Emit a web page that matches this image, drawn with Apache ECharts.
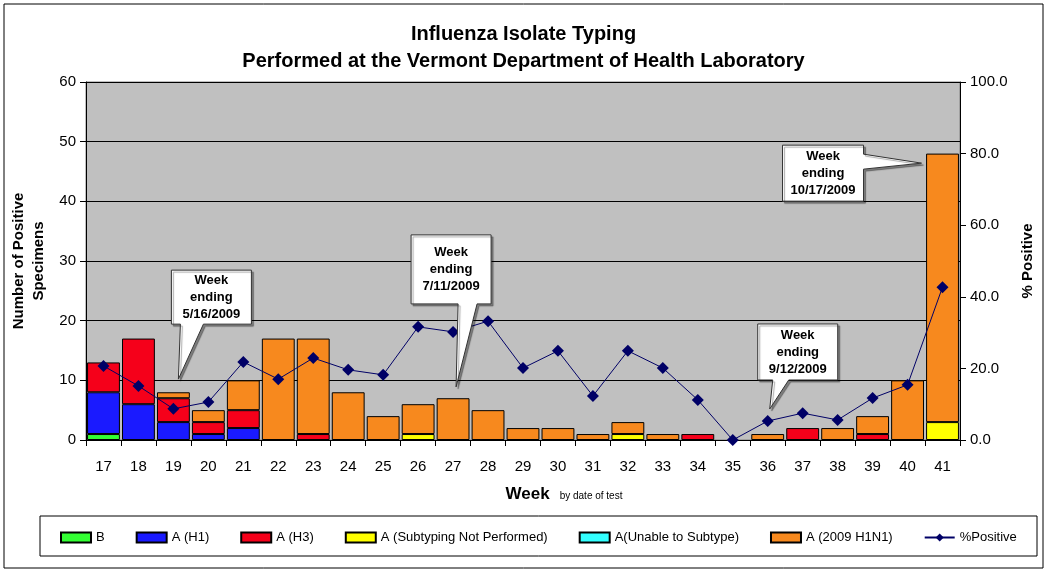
<!DOCTYPE html>
<html lang="en">
<head>
  <meta charset="UTF-8" />
  <title>Influenza Isolate Typing</title>
  <script src="https://cdn.jsdelivr.net/npm/echarts@6.0.0/dist/echarts.min.js"></script>
  <style>
    html, body { margin: 0; padding: 0; background: #fff; }
  </style>
</head>
<body>
  <div id="main" style="width: 1047px; height: 574px;"></div>

  <script>
    // week numbers (by date of test)
    const weeks = ['17', '18', '19', '20', '21', '22', '23', '24', '25', '26', '27', '28', '29',
      '30', '31', '32', '33', '34', '35', '36', '37', '38', '39', '40', '41'];

    // number of positive specimens, per type
    const typeB = [1, 0, 0, 0, 0, 0, 0, 0, 0, 0, 0, 0, 0, 0, 0, 0, 0, 0, 0, 0, 0, 0, 0, 0, 0];
    const typeH1 = [7, 6, 3, 1, 2, 0, 0, 0, 0, 0, 0, 0, 0, 0, 0, 0, 0, 0, 0, 0, 0, 0, 0, 0, 0];
    const typeH3 = [5, 11, 4, 2, 3, 0, 1, 0, 0, 0, 0, 0, 0, 0, 0, 0, 0, 1, 0, 0, 2, 0, 1, 0, 0];
    const typeNotSubtyped = [0, 0, 0, 0, 0, 0, 0, 0, 0, 1, 0, 0, 0, 0, 0, 1, 0, 0, 0, 0, 0, 0, 0, 0, 3];
    const typeUnable = [0, 0, 0, 0, 0, 0, 0, 0, 0, 0, 0, 0, 0, 0, 0, 0, 0, 0, 0, 0, 0, 0, 0, 0, 0];
    const typeH1N1 = [0, 0, 1, 2, 5, 17, 16, 8, 4, 5, 7, 5, 2, 2, 1, 2, 1, 0, 0, 1, 0, 2, 3, 10, 45];

    // % positive (right axis)
    const pctPositive = [20.7, 15.1, 8.7, 10.6, 21.8, 17.0, 22.9, 19.6, 18.2, 31.6, 30.2, 33.2, 20.1,
      24.9, 12.3, 24.9, 20.1, 11.2, 0, 5.3, 7.5, 5.6, 11.7, 15.4, 42.7];

    const font = 'Liberation Sans, Arial, sans-serif';
    const chart = echarts.init(document.getElementById('main'));

    // zero-height segments would still draw a border line
    const noZero = (arr) => arr.map((v) => (v === 0 ? '-' : v));

    const barSeries = [
      { name: 'B', data: typeB, color: '#33FF33' },
      { name: 'A (H1)', data: typeH1, color: '#1A1AFF' },
      { name: 'A (H3)', data: typeH3, color: '#F5001A' },
      { name: 'A (Subtyping Not Performed)', data: typeNotSubtyped, color: '#FFFF00' },
      { name: 'A(Unable to Subtype)', data: typeUnable, color: '#33FFFF' },
      { name: 'A (2009 H1N1)', data: typeH1N1, color: '#F7891E' },
    ].map((s) => ({
      name: s.name,
      type: 'bar',
      stack: 'count',
      barCategoryGap: '6%',
      data: noZero(s.data),
      itemStyle: { color: s.color, borderColor: '#000', borderWidth: 1 },
      emphasis: { disabled: true },
    }));

    const frames = [
      {
        type: 'rect',
        shape: { x: 4, y: 4, width: 1039, height: 564 },
        style: { fill: 'none', stroke: '#000', lineWidth: 1 },
        z: -10,
      },
      {
        type: 'rect',
        shape: { x: 40, y: 516, width: 997, height: 40 },
        style: { fill: 'none', stroke: '#000', lineWidth: 1 },
        z: -10,
      },
    ];

    chart.setOption({
      animation: false,
      backgroundColor: '#fff',
      textStyle: { fontFamily: font },
      title: [
        {
          text: 'Influenza Isolate Typing\nPerformed at the Vermont Department of Health Laboratory',
          left: 'center',
          top: 16,
          textStyle: { fontSize: 20, fontWeight: 'bold', color: '#000', lineHeight: 27, fontFamily: font },
        },
      ],
      grid: {
        left: 86, right: 87, top: 82, bottom: 134,
        outerBoundsMode: 'none',
        containLabel: false,
        show: true, backgroundColor: '#C0C0C0', borderColor: '#808080', borderWidth: 1,
      },
      legend: {
        left: 55,
        top: 526,
        itemWidth: 30,
        itemHeight: 10,
        itemGap: 31,
        textStyle: { fontSize: 13, color: '#000', fontFamily: 'Liberation Sans Narrow, Liberation Sans, Arial' },
        data: barSeries.map((s) => ({ name: s.name, icon: 'rect' })).concat([{ name: '%Positive' }]),
      },
      xAxis: {
        type: 'category',
        data: weeks,
        axisLine: { lineStyle: { color: '#000', width: 1 } },
        axisTick: { show: true, length: 6, lineStyle: { color: '#000' } },
        axisLabel: { fontSize: 15, color: '#000', margin: 19 },
        name: '{a|Week}   {b|by date of test}',
        nameLocation: 'middle',
        nameGap: 46,
        nameTextStyle: {
          padding: [0, 0, 0, 82],
          rich: {
            a: { fontSize: 17, fontWeight: 'bold', color: '#000', fontFamily: font },
            b: { fontSize: 10, color: '#000', fontFamily: font, padding: [4, 0, 0, 0] },
          },
        },
      },
      yAxis: [
        {
          type: 'value',
          min: 0, max: 60, interval: 10,
          axisLine: { show: true, lineStyle: { color: '#000' } },
          axisTick: { show: true, length: 6, lineStyle: { color: '#000' } },
          axisLabel: { fontSize: 15, color: '#000', margin: 10 },
          splitLine: { show: true, lineStyle: { color: '#000', width: 1 } },
          name: 'Number of Positive\nSpecimens',
          nameLocation: 'middle',
          nameRotate: 90,
          nameGap: 35,
          nameTextStyle: { fontSize: 15, fontWeight: 'bold', color: '#000', lineHeight: 20 },
        },
        {
          type: 'value',
          min: 0, max: 100, interval: 20,
          position: 'right',
          axisLine: { show: true, lineStyle: { color: '#000' } },
          axisTick: { show: true, length: 6, lineStyle: { color: '#000' } },
          axisLabel: { fontSize: 15, color: '#000', margin: 10, formatter: (v) => v.toFixed(1) },
          splitLine: { show: false },
          name: '% Positive',
          nameLocation: 'middle',
          nameRotate: 90,
          nameGap: 60,
          nameTextStyle: { fontSize: 15, fontWeight: 'bold', color: '#000' },
        },
      ],
      series: barSeries.concat([
        {
          name: '%Positive',
          type: 'line',
          yAxisIndex: 1,
          data: pctPositive,
          symbol: 'diamond',
          symbolSize: 12,
          lineStyle: { color: '#000066', width: 1 },
          itemStyle: { color: '#000066' },
          emphasis: { disabled: true },
          z: 5,
        },
      ]),
      graphic: frames,
    });

    // callouts: tip anchored in data space, box laid out relative to the tip (pixels)
    const callouts = [
      { week: '19', value: 10.2, dx: 5, text: 'Week\nending\n5/16/2009', box: [-7, 73, -109, -55], tail: 'bottom', base: [2, 25] },
      { week: '27', value: 8.9, dx: 3, text: 'Week\nending\n7/11/2009', box: [-45, 35, -152, -83], tail: 'bottom', base: [2, 21] },
      { week: '36', value: 5.2, dx: 2, text: 'Week\nending\n9/12/2009', box: [-12, 68, -85, -29], tail: 'bottom', base: [3, 19] },
      { week: '41', value: 46.4, dx: -21, text: 'Week\nending\n10/17/2009', box: [-139, -58, -18, 38], tail: 'right', base: [-9, 6] },
    ];

    const calloutGraphics = [];
    callouts.forEach((c) => {
      const p = chart.convertToPixel({ xAxisIndex: 0, yAxisIndex: 0 }, [c.week, c.value]);
      const tx = p[0] + c.dx, ty = p[1];
      const L = tx + c.box[0], R = tx + c.box[1], T = ty + c.box[2], B = ty + c.box[3];
      let pts;
      if (c.tail === 'bottom') {
        pts = [[L, T], [R, T], [R, B], [tx + c.base[1], B], [tx, ty], [tx + c.base[0], B], [L, B]];
      } else {
        pts = [[L, T], [R, T], [R, ty + c.base[0]], [tx, ty], [R, ty + c.base[1]], [R, B], [L, B]];
      }
      calloutGraphics.push({
        type: 'polygon',
        shape: { points: pts },
        style: {
          fill: '#fff', stroke: '#333', lineWidth: 1,
          shadowColor: 'rgba(0,0,0,0.35)', shadowOffsetX: 2, shadowOffsetY: 2, shadowBlur: 1,
        },
        z: 20,
      });
      calloutGraphics.push({
        type: 'text',
        x: (L + R) / 2,
        y: (T + B) / 2,
        style: {
          text: c.text,
          fill: '#000',
          font: 'bold 13px ' + font,
          lineHeight: 17,
          align: 'center',
          verticalAlign: 'middle',
        },
        z: 21,
      });
    });

    chart.setOption({ graphic: frames.concat(calloutGraphics) }, { replaceMerge: ['graphic'] });
  </script>
</body>
</html>
